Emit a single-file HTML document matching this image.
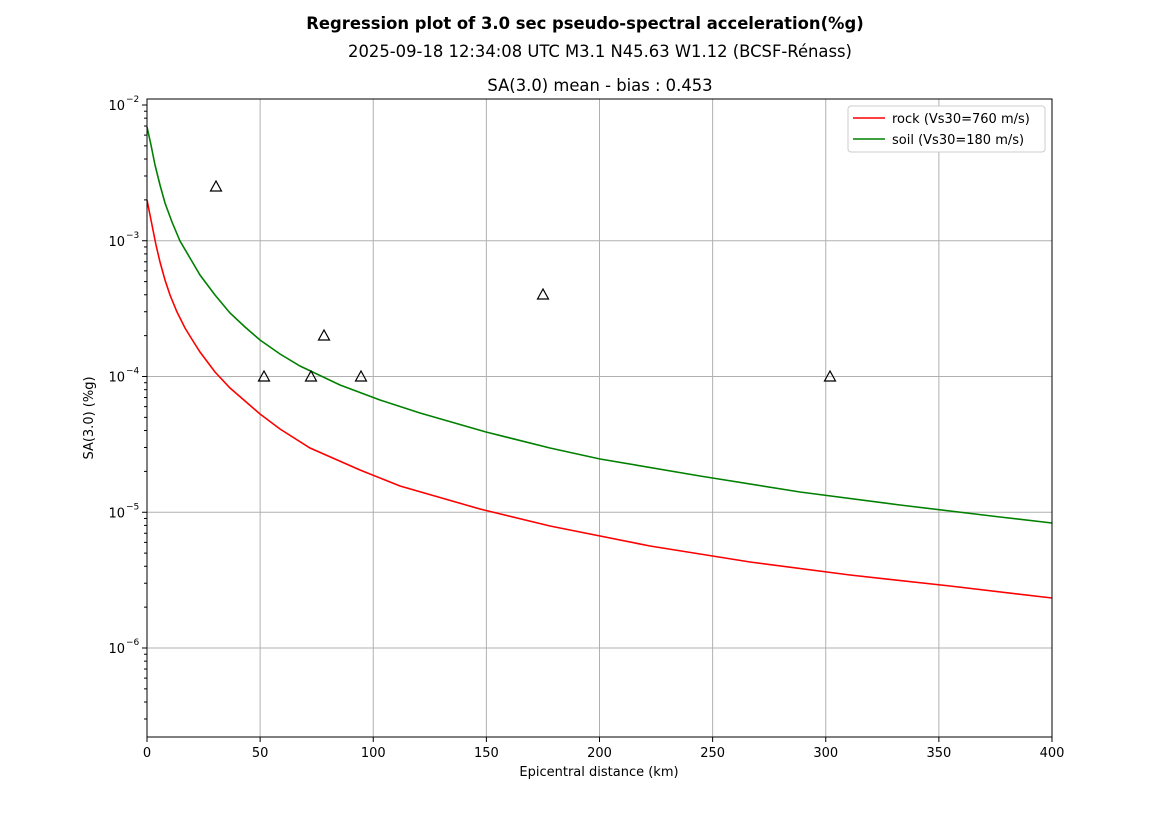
<!DOCTYPE html>
<html><head><meta charset="utf-8"><style>body{margin:0;background:#fff}svg{display:block;font-family:"DejaVu Sans","Liberation Sans",sans-serif}</style></head>
<body>
<svg id="s" width="1169" height="827" xmlns="http://www.w3.org/2000/svg">
<rect width="1169" height="827" fill="#fff"/>
<text x="585" y="29" text-anchor="middle" font-size="16.4" font-weight="bold">Regression plot of 3.0 sec pseudo-spectral acceleration(%g)</text>
<text x="600" y="57" text-anchor="middle" font-size="16.4">2025-09-18 12:34:08 UTC M3.1 N45.63 W1.12 (BCSF-Rénass)</text>
<text x="600" y="91" text-anchor="middle" font-size="16.4">SA(3.0) mean - bias : 0.453</text>
<g id="grid" stroke="#b0b0b0" stroke-width="1"></g>
<g id="ticks" stroke="#000" stroke-width="1"></g>
<g id="labels" font-size="13"></g>
<polyline fill="none" stroke="#ff0000" stroke-width="1.6" points="147,200 152,225 156,245 160,262 165,280 170,295 177,312 185,328 193,341 200,352 215,372 230,388 245,401 260,414 280,429 310,448 360,470 400,486 480,509 550,526 650,546 750,562 850,575 950,586 1052,598"/>
<polyline fill="none" stroke="#008000" stroke-width="1.6" points="147,127 151,145 155,165 160,185 165,203 172,222 180,241 190,258 200,275 215,295 230,313 245,327 260,340 280,354 300,366 340,385 380,400 420,413 486,432 550,448 600,459 700,476 800,492 900,505 1000,517 1052,523"/>
<g fill="none" stroke="#000" stroke-width="1.2">
<path d="M216,181 l-5.5,10 h11 z M264,371 l-5.5,10 h11 z M311,371 l-5.5,10 h11 z M324,330 l-5.5,10 h11 z M361,371 l-5.5,10 h11 z M543,289 l-5.5,10 h11 z M830,371 l-5.5,10 h11 z"/>
</g>
<rect x="147" y="99" width="905" height="638" fill="none" stroke="#000" stroke-width="1"/>
<g>
<rect x="848" y="106" width="197" height="46" fill="#fff" stroke="#ccc" rx="3"/>
<line x1="853" y1="118" x2="885" y2="118" stroke="#ff0000" stroke-width="1.6"/>
<text x="892" y="123" font-size="13">rock (Vs30=760 m/s)</text>
<line x1="853" y1="139" x2="885" y2="139" stroke="#008000" stroke-width="1.6"/>
<text x="892" y="144" font-size="13">soil (Vs30=180 m/s)</text>
</g>
<text x="599" y="776" text-anchor="middle" font-size="13">Epicentral distance (km)</text>
<text transform="translate(93,418) rotate(-90)" text-anchor="middle" font-size="13">SA(3.0) (%g)</text>
</svg>
<script>
var NS="http://www.w3.org/2000/svg";
function el(p,t,a,txt){var e=document.createElementNS(NS,t);for(var k in a)e.setAttribute(k,a[k]);if(txt!=null)e.textContent=txt;document.getElementById(p).appendChild(e);}
var x0=147,sx=905/400;
for(var v=0;v<=400;v+=50){var x=x0+v*sx;
 if(v>0&&v<400)el("grid","line",{x1:x,y1:99,x2:x,y2:737});
 el("ticks","line",{x1:x,y1:737,x2:x,y2:742});
 el("labels","text",{x:x,y:757,"text-anchor":"middle"},String(v));}
var dec=135.75;function Y(e){return 105+(-2-e)*dec;}
for(var e=-2;e>=-6;e--){var y=Y(e);
 if(e<-2)el("grid","line",{x1:147,y1:y,x2:1052,y2:y});
 el("ticks","line",{x1:142,y1:y,x2:147,y2:y});
 el("labels","text",{x:125,y:y+5,"text-anchor":"end"},"10");
 el("labels","text",{x:126,y:y-3,"font-size":"9"},"\u2212"+(-e));}
for(var e=-7;e<=-3;e++)for(var k=2;k<=9;k++){var y=Y(e+Math.log10(k));if(y>=99&&y<=737)el("ticks","line",{x1:144,y1:y,x2:147,y2:y});}
</script>
</body></html>
